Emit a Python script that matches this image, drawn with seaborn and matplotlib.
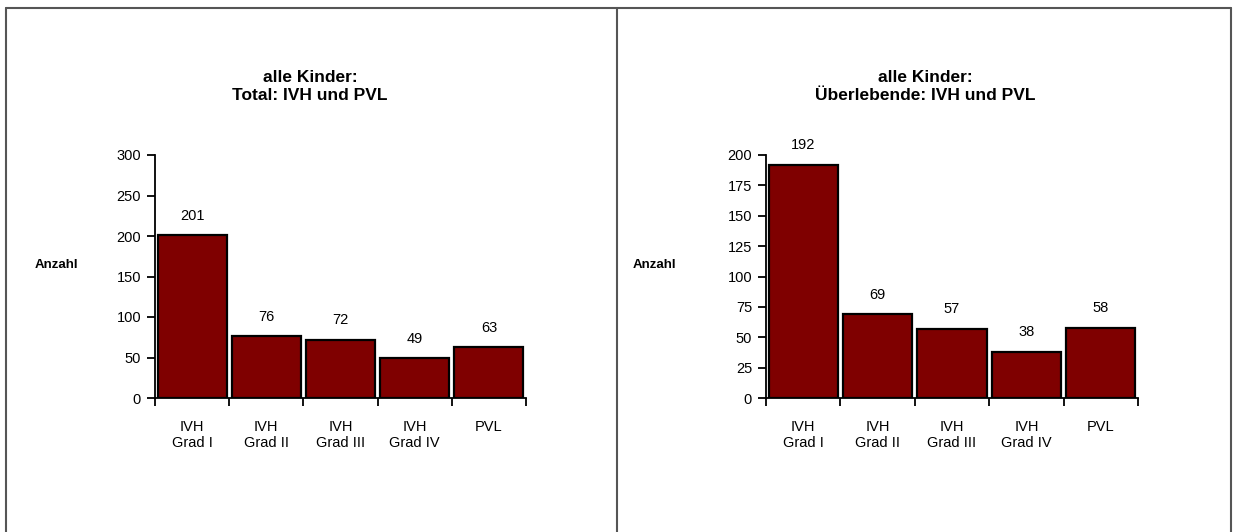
import numpy as np
import pandas as pd
import matplotlib
matplotlib.use("Agg")
import matplotlib.pyplot as plt
from matplotlib.lines import Line2D
import seaborn as sns

# data
categories = ["IVH\nGrad I", "IVH\nGrad II", "IVH\nGrad III", "IVH\nGrad IV", "PVL"]
total_values = [201, 76, 72, 49, 63]
survivor_values = [192, 69, 57, 38, 58]
titles = ["alle Kinder:\nTotal: IVH und PVL", "alle Kinder:\nÜberlebende: IVH und PVL"]

sns.set_style("white")
plt.rcParams["font.family"] = ["Liberation Sans", "DejaVu Sans"]
plt.rcParams.update({"text.color": "black", "xtick.color": "black",
                     "ytick.color": "black", "axes.labelcolor": "black"})

fig = plt.figure(figsize=(12.34, 5.32), dpi=100)
W, H = 1234, 532

panels = [
    dict(vals=total_values, ax=(155, 526), ymax=300, step=50, title=titles[0], tx=310, lx=35),
    dict(vals=survivor_values, ax=(766, 1138), ymax=200, step=25, title=titles[1], tx=925, lx=633),
]

for p in panels:
    x0, x1 = p["ax"]
    ax = fig.add_axes([x0 / W, (H - 398) / H, (x1 - x0) / W, (398 - 155) / H])
    df = pd.DataFrame({"cat": categories, "val": p["vals"]})
    sns.barplot(data=df, x="cat", y="val", color="#7f0000", edgecolor="black",
                linewidth=1.6, width=0.93, saturation=1, ax=ax)
    ax.set_xlim(-0.5, len(categories) - 0.5)
    ax.set_ylim(0, p["ymax"])
    ax.set_yticks(np.arange(0, p["ymax"] + 1, p["step"]))
    ax.tick_params(axis="y", direction="out", length=6, width=1.3, labelsize=10.5, pad=4, left=True)
    # ticks at category borders, labels at centers
    ax.set_xticks(np.arange(-0.5, len(categories)), minor=False)
    ax.set_xticklabels([])
    ax.set_xticks(range(len(categories)), minor=True)
    ax.set_xticklabels(categories, minor=True, fontsize=10.5)
    ax.tick_params(axis="x", which="major", direction="out", length=6, width=1.3, bottom=True)
    ax.tick_params(axis="x", which="minor", length=0, pad=16)
    for s in ["top", "right"]:
        ax.spines[s].set_visible(False)
    for s in ["left", "bottom"]:
        ax.spines[s].set_color("black")
        ax.spines[s].set_linewidth(1.3)
    ax.set_xlabel("")
    ax.set_ylabel("")
    for i, v in enumerate(p["vals"]):
        ax.annotate(str(v), (i, v), xytext=(0, 14), textcoords="offset points",
                    ha="center", va="center", fontsize=10.5)
    fig.text(p["tx"] / W, (H - 86) / H, p["title"], ha="center", va="center",
             fontsize=12.5, fontweight="bold", linespacing=1.25)
    fig.text(p["lx"] / W, (H - 265) / H, "Anzahl", ha="left", va="center",
             fontsize=9.5, fontweight="bold")

# panel borders
border = dict(color="#555555", linewidth=1.5, transform=fig.transFigure)
fig.add_artist(Line2D([6 / W, 1231 / W], [(H - 8) / H, (H - 8) / H], **border))
for x in [6, 617, 1231]:
    fig.add_artist(Line2D([x / W, x / W], [0, (H - 8) / H], **border))

fig.savefig("out.png", dpi=100)
